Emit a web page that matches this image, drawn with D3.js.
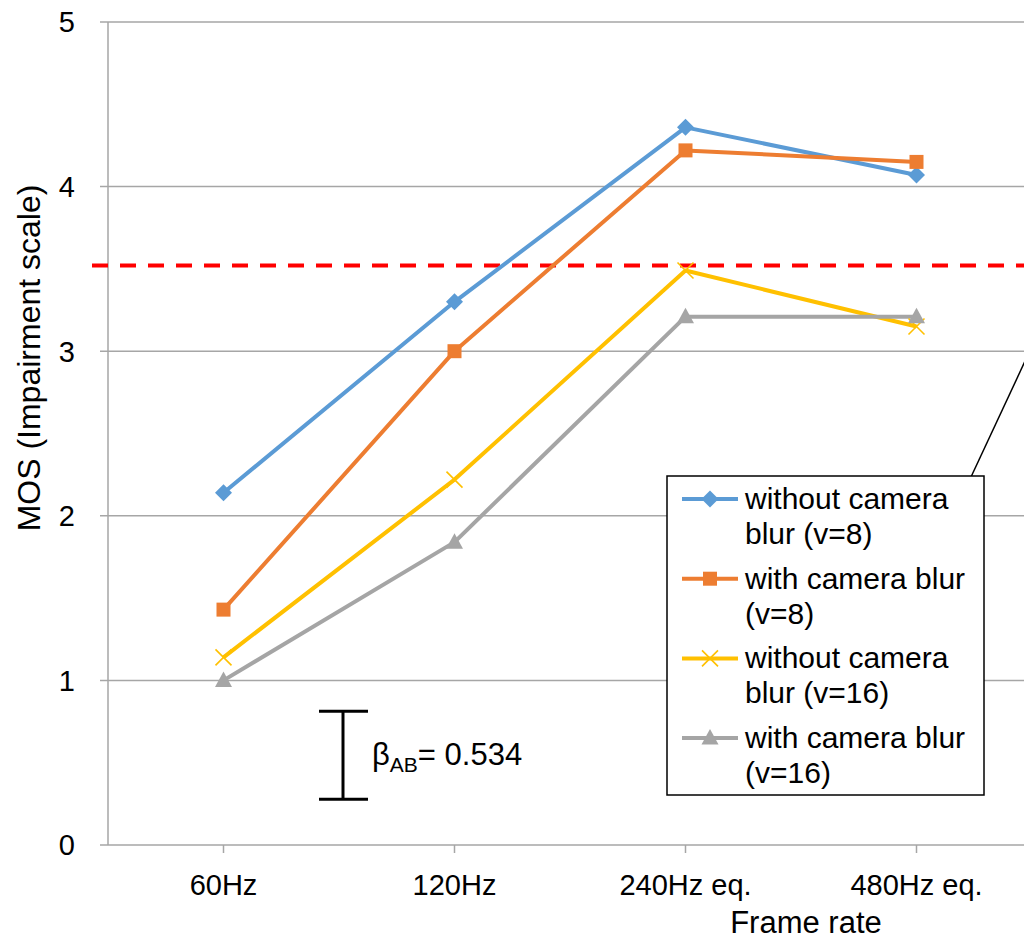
<!DOCTYPE html>
<html>
<head>
<meta charset="utf-8">
<script src="https://cdn.jsdelivr.net/npm/d3@7"></script>
<style>
  body { margin: 0; background: #fff; }
  svg { display: block; font-family: "Liberation Sans", Arial, sans-serif; }
</style>
</head>
<body>
<svg id="chart" width="1024" height="939"></svg>
<script>
// categories and series
const frameRates = ['60Hz', '120Hz', '240Hz eq.', '480Hz eq.'];
const yTicks = [0, 1, 2, 3, 4, 5];

const noBlurV8   = [2.14, 3.30, 4.36, 4.07];
const blurV8     = [1.43, 3.00, 4.22, 4.15];
const noBlurV16  = [1.14, 2.22, 3.49, 3.15];
const blurV16    = [1.00, 1.84, 3.21, 3.21];

const seriesNames = [
  ['without camera', 'blur (v=8)'],
  ['with camera blur', '(v=8)'],
  ['without camera', 'blur (v=16)'],
  ['with camera blur', '(v=16)']
];
const seriesColors = ['#5b9bd5', '#ed7d31', '#ffc000', '#a5a5a5'];
const seriesMarkers = ['diamond', 'square', 'cross', 'triangle'];

const thresholdMOS = 3.52;   // red dashed line
const betaAB = 0.534;        // error bar length
const betaCenter = 0.545;

const series = [noBlurV8, blurV8, noBlurV16, blurV16].map((values, i) => ({
  values, name: seriesNames[i], color: seriesColors[i], marker: seriesMarkers[i]
}));

const margin = { top: 22, left: 108, bottom: 845, right: 1032 };
const svg = d3.select('#chart');

const x = d3.scalePoint()
  .domain(frameRates)
  .range([margin.left, margin.right])
  .padding(0.5);

const y = d3.scaleLinear()
  .domain([0, 5])
  .range([margin.bottom, margin.top]);

const gridColor = '#a6a6a6';

// horizontal gridlines + y ticks
svg.append('g')
  .selectAll('line')
  .data(yTicks)
  .join('line')
  .attr('x1', margin.left - 8)
  .attr('x2', 1024)
  .attr('y1', d => y(d))
  .attr('y2', d => y(d))
  .attr('stroke', gridColor)
  .attr('stroke-width', 1.5);

// y axis line
svg.append('line')
  .attr('x1', margin.left).attr('x2', margin.left)
  .attr('y1', y(5)).attr('y2', y(0))
  .attr('stroke', gridColor)
  .attr('stroke-width', 1.5);

// x tick marks
svg.append('g')
  .selectAll('line')
  .data(frameRates)
  .join('line')
  .attr('x1', d => x(d)).attr('x2', d => x(d))
  .attr('y1', y(0)).attr('y2', y(0) + 8)
  .attr('stroke', gridColor)
  .attr('stroke-width', 1.5);

// y tick labels
svg.append('g')
  .selectAll('text')
  .data(yTicks)
  .join('text')
  .attr('x', 75)
  .attr('y', d => y(d))
  .attr('dy', '0.36em')
  .attr('text-anchor', 'end')
  .attr('font-size', 29)
  .text(d => d);

// x tick labels
svg.append('g')
  .selectAll('text')
  .data(frameRates)
  .join('text')
  .attr('x', d => x(d))
  .attr('y', 895)
  .attr('text-anchor', 'middle')
  .attr('font-size', 29)
  .text(d => d);

// axis titles
svg.append('text')
  .attr('x', 806)
  .attr('y', 933)
  .attr('text-anchor', 'middle')
  .attr('font-size', 31)
  .text('Frame rate');

svg.append('text')
  .attr('transform', `translate(40,358) rotate(-90)`)
  .attr('text-anchor', 'middle')
  .attr('font-size', 32)
  .text('MOS (Impairment scale)');

// red dashed threshold
svg.append('line')
  .attr('x1', 92).attr('x2', 1024)
  .attr('y1', y(thresholdMOS)).attr('y2', y(thresholdMOS))
  .attr('stroke', '#ff0000')
  .attr('stroke-width', 4)
  .attr('stroke-dasharray', '16,12');

// marker drawing
function drawMarker(g, type, color, cx, cy) {
  if (type === 'diamond') {
    g.append('path')
      .attr('d', `M${cx},${cy - 8.5}L${cx + 8.5},${cy}L${cx},${cy + 8.5}L${cx - 8.5},${cy}Z`)
      .attr('fill', color);
  } else if (type === 'square') {
    g.append('rect')
      .attr('x', cx - 7).attr('y', cy - 7)
      .attr('width', 14).attr('height', 14)
      .attr('fill', color);
  } else if (type === 'triangle') {
    g.append('path')
      .attr('d', `M${cx},${cy - 9}L${cx + 8.5},${cy + 6.5}L${cx - 8.5},${cy + 6.5}Z`)
      .attr('fill', color);
  } else if (type === 'cross') {
    g.append('path')
      .attr('d', `M${cx - 8},${cy - 8}L${cx + 8},${cy + 8}M${cx + 8},${cy - 8}L${cx - 8},${cy + 8}`)
      .attr('stroke', color)
      .attr('stroke-width', 1.6);
  }
}

const line = d3.line()
  .x((d, i) => x(frameRates[i]))
  .y(d => y(d));

const plot = svg.append('g');
series.forEach(s => {
  plot.append('path')
    .datum(s.values)
    .attr('d', line)
    .attr('fill', 'none')
    .attr('stroke', s.color)
    .attr('stroke-width', 4)
    .attr('stroke-linejoin', 'round');
});
series.forEach(s => {
  s.values.forEach((v, i) => drawMarker(plot, s.marker, s.color, x(frameRates[i]), y(v)));
});

// error bar for beta_AB
const ebX = 343;
const ebTop = y(betaCenter + betaAB / 2);
const ebBot = y(betaCenter - betaAB / 2);
const eb = svg.append('g').attr('stroke', '#000').attr('stroke-width', 3);
eb.append('line').attr('x1', ebX).attr('x2', ebX).attr('y1', ebTop).attr('y2', ebBot);
eb.append('line').attr('x1', ebX - 24).attr('x2', ebX + 25).attr('y1', ebTop).attr('y2', ebTop);
eb.append('line').attr('x1', ebX - 24).attr('x2', ebX + 25).attr('y1', ebBot).attr('y2', ebBot);

const beta = svg.append('text')
  .attr('x', 372)
  .attr('y', 765)
  .attr('font-size', 31);
beta.append('tspan').text('β');
beta.append('tspan').attr('font-size', 21).attr('dy', 7).text('AB');
beta.append('tspan').attr('dy', -7).text('= ' + betaAB.toFixed(3));

// callout line
svg.append('line')
  .attr('x1', 971).attr('y1', 477)
  .attr('x2', 1026).attr('y2', 359)
  .attr('stroke', '#000')
  .attr('stroke-width', 1.5);

// legend
const legend = svg.append('g');
legend.append('rect')
  .attr('x', 667).attr('y', 476)
  .attr('width', 317).attr('height', 319)
  .attr('fill', '#fff')
  .attr('stroke', '#000')
  .attr('stroke-width', 1.5);

series.forEach((s, i) => {
  const ry = 499 + i * 79.7;
  legend.append('line')
    .attr('x1', 682).attr('x2', 738)
    .attr('y1', ry).attr('y2', ry)
    .attr('stroke', s.color)
    .attr('stroke-width', 4);
  drawMarker(legend, s.marker, s.color, 710, ry);
  s.name.forEach((t, j) => {
    legend.append('text')
      .attr('x', 745)
      .attr('y', ry + 10 + j * 35)
      .attr('font-size', 30)
      .text(t);
  });
});
</script>
</body>
</html>
